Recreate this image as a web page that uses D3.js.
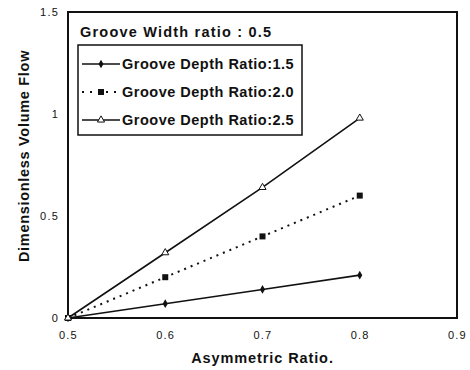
<!DOCTYPE html>
<html>
<head>
<meta charset="utf-8">
<script src="https://cdn.jsdelivr.net/npm/d3@7"></script>
<style>
body { margin:0; background:#fff; }
text { font-family: "Liberation Sans", Arial, sans-serif; fill:#111; }
</style>
</head>
<body>
<div id="chart"></div>
<script>
// data
var xVals = [0.5, 0.6, 0.7, 0.8];
var depth15 = [0, 0.07, 0.14, 0.21];
var depth20 = [0, 0.20, 0.40, 0.60];
var depth25 = [0, 0.32, 0.64, 0.98];
var seriesNames = ["Groove Depth Ratio:1.5", "Groove Depth Ratio:2.0", "Groove Depth Ratio:2.5"];
var xTicks = [0.5, 0.6, 0.7, 0.8, 0.9];
var yTicks = [0, 0.5, 1, 1.5];
var xTickLabels = ["0.5", "0.6", "0.7", "0.8", "0.9"];
var yTickLabels = ["0", "0.5", "1", "1.5"];
var boxTitle = "Groove Width ratio : 0.5";

var W = 470, H = 370;
var m = {left: 68, right: 13, top: 12, bottom: 52};

var svg = d3.select("#chart").append("svg").attr("width", W).attr("height", H);

var x = d3.scaleLinear().domain([0.5, 0.9]).range([m.left, W - m.right]);
var y = d3.scaleLinear().domain([0, 1.5]).range([H - m.bottom, m.top]);

// frame
svg.append("rect")
  .attr("x", x(0.5)).attr("y", y(1.5))
  .attr("width", x(0.9) - x(0.5)).attr("height", y(0) - y(1.5))
  .attr("fill", "none").attr("stroke", "#111").attr("stroke-width", 2);

// axes (labels only)
var xAxis = svg.append("g").attr("transform", "translate(0," + (y(0) + 14) + ")")
  .call(d3.axisBottom(x).tickValues(xTicks).tickSize(0).tickFormat(function(d, i){ return xTickLabels[i]; }));
xAxis.select(".domain").remove();
xAxis.selectAll("text").attr("font-size", 11).attr("dy", "0.35em").style("letter-spacing", "1.2px");

var yAxis = svg.append("g").attr("transform", "translate(" + (x(0.5) - 6) + ",0)")
  .call(d3.axisLeft(y).tickValues(yTicks).tickSize(0).tickFormat(function(d, i){ return yTickLabels[i]; }));
yAxis.select(".domain").remove();
yAxis.selectAll("text").attr("font-size", 11).style("letter-spacing", "1.2px");

svg.append("text")
  .attr("x", (x(0.5) + x(0.9)) / 2).attr("y", H - 7)
  .attr("text-anchor", "middle").attr("font-size", 14.5).attr("font-weight", "bold")
  .style("letter-spacing", "0.9px")
  .text("Asymmetric Ratio.");

svg.append("text")
  .attr("transform", "translate(29,156) rotate(-90)")
  .attr("text-anchor", "middle").attr("font-size", 14.5).attr("font-weight", "bold")
  .style("letter-spacing", "0.7px")
  .text("Dimensionless Volume Flow");

// series
var series = [
  {name: seriesNames[0], vals: depth15, dash: null, marker: "diamond"},
  {name: seriesNames[1], vals: depth20, dash: "2,5", marker: "square"},
  {name: seriesNames[2], vals: depth25, dash: null, marker: "triangle"}
];

var line = d3.line().x(function(d){ return x(d[0]); }).y(function(d){ return y(d[1]); });

function drawMarker(g, type, cx, cy) {
  if (type == "diamond") {
    g.append("path").attr("d", d3.symbol(d3.symbolDiamond, 22)()).attr("transform", "translate(" + cx + "," + cy + ")")
      .attr("fill", "#111");
  } else if (type == "square") {
    g.append("rect").attr("x", cx - 3).attr("y", cy - 3).attr("width", 6).attr("height", 6).attr("fill", "#111");
  } else {
    g.append("path").attr("d", d3.symbol(d3.symbolTriangle, 22)()).attr("transform", "translate(" + cx + "," + cy + ")")
      .attr("fill", "#fff").attr("stroke", "#111").attr("stroke-width", 1);
  }
}

series.forEach(function(s) {
  var pts = xVals.map(function(v, i){ return [v, s.vals[i]]; });
  svg.append("path").datum(pts).attr("d", line)
    .attr("fill", "none").attr("stroke", "#111")
    .attr("stroke-width", s.dash ? 2 : 1.6)
    .attr("stroke-dasharray", s.dash);
  var g = svg.append("g");
  pts.forEach(function(p){ drawMarker(g, s.marker, x(p[0]), y(p[1])); });
});

// legend
svg.append("text").attr("x", 80).attr("y", 37)
  .attr("font-size", 14.5).attr("font-weight", "bold").style("letter-spacing", "1.2px").text(boxTitle);

svg.append("rect").attr("x", 78).attr("y", 45).attr("width", 224).attr("height", 90)
  .attr("fill", "#fff").attr("stroke", "#111").attr("stroke-width", 1.5);

series.forEach(function(s, i) {
  var ly = 64 + i * 28;
  var lg = svg.append("g");
  if (s.dash) {
    lg.append("line").attr("x1", 82).attr("x2", 120).attr("y1", ly).attr("y2", ly)
      .attr("stroke", "#111").attr("stroke-width", 2).attr("stroke-dasharray", "2,6");
  } else {
    lg.append("line").attr("x1", 82).attr("x2", 120).attr("y1", ly).attr("y2", ly)
      .attr("stroke", "#111").attr("stroke-width", 1.6);
  }
  drawMarker(lg, s.marker, 101, ly);
  lg.append("text").attr("x", 122).attr("y", ly + 5)
    .attr("font-size", 14.5).attr("font-weight", "bold").style("letter-spacing", "0.5px").text(s.name);
});
</script>
</body>
</html>
